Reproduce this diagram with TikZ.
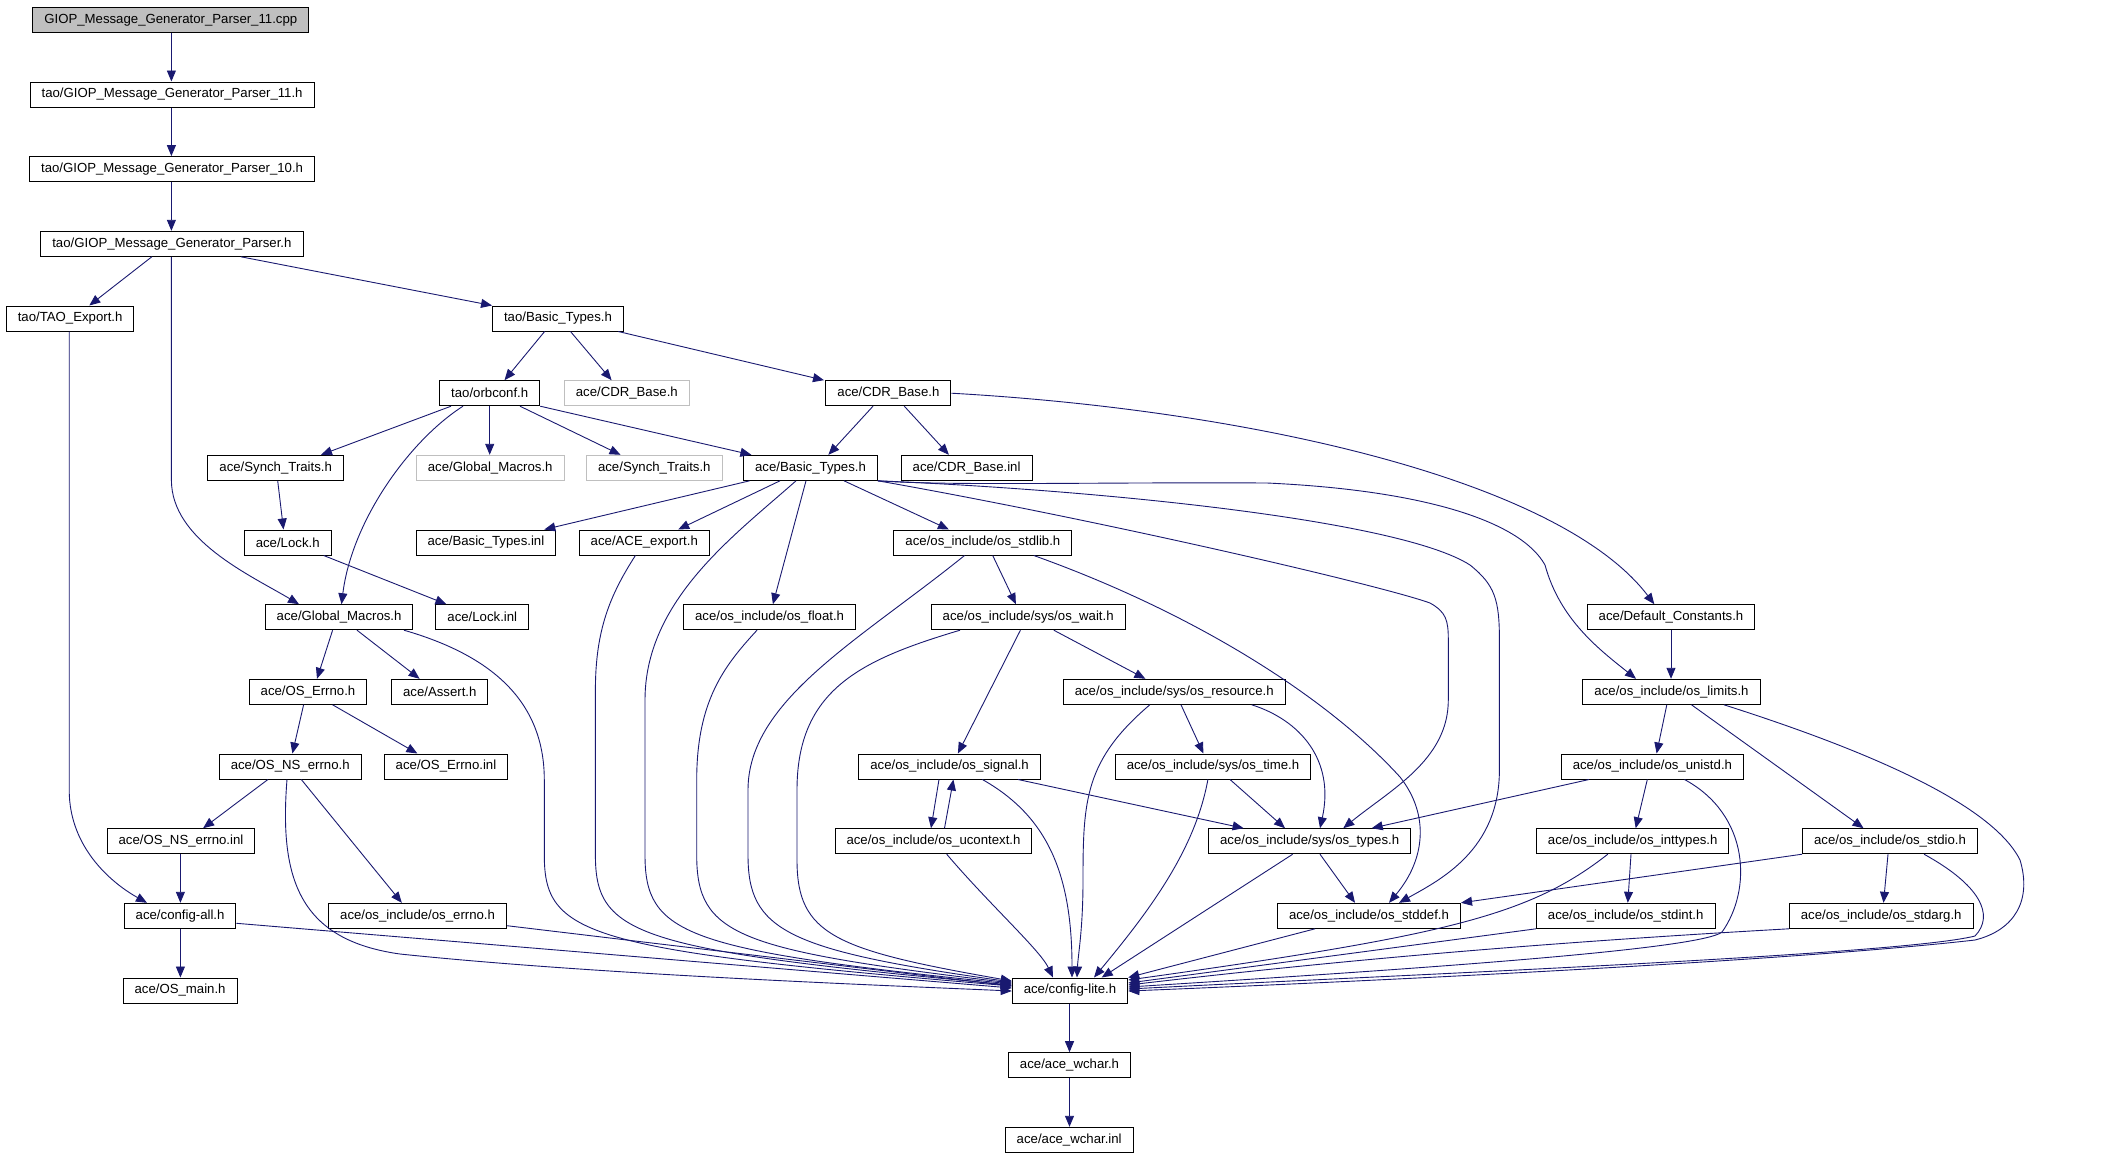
\documentclass[tikz,border=0pt]{standalone}
\usepackage{fontspec}
\setmainfont{Liberation Sans}
\usetikzlibrary{arrows.meta}
\definecolor{edgeblue}{RGB}{25,25,112}
\definecolor{grey75}{RGB}{191,191,191}

\begin{document}
\begin{tikzpicture}[x=1pt, y=-1pt,
      every node/.style = {shape=rectangle, draw, line width=1pt,
        font=\fontsize{13.2}{15}\selectfont,
        minimum height=25pt, inner xsep=11.5pt, inner ysep=0pt},
      ext/.style = {draw=grey75},
      root/.style = {fill=grey75},
      dep/.style = {draw=edgeblue, line width=0.9pt,
        -{Triangle[length=11pt,width=9pt]}}]
  \useasboundingbox (0,0) rectangle (2109,1157);

  \node[root] (cpp) at (170.8,19.8) {GIOP\_Message\_Generator\_Parser\_11.cpp};
  \node (p11) at (172.1,94.5) {tao/GIOP\_Message\_Generator\_Parser\_11.h};
  \node (p10) at (172.1,169.1) {tao/GIOP\_Message\_Generator\_Parser\_10.h};
  \node (parser) at (171.9,243.8) {tao/GIOP\_Message\_Generator\_Parser.h};
  \node (taoexp) at (70.1,318.5) {tao/TAO\_Export.h};
  \node (taobt) at (558,318.5) {tao/Basic\_Types.h};
  \node (orbconf) at (489.7,393.2) {tao/orbconf.h};
  \node[ext] (cdrx) at (626.8,393.2) {ace/CDR\_Base.h};
  \node (cdr) at (888.4,393.2) {ace/CDR\_Base.h};
  \node (synch) at (275.7,467.8) {ace/Synch\_Traits.h};
  \node[ext] (gmx) at (490.2,467.8) {ace/Global\_Macros.h};
  \node[ext] (synchx) at (654.3,467.8) {ace/Synch\_Traits.h};
  \node (bt) at (810.5,467.8) {ace/Basic\_Types.h};
  \node (cdrinl) at (966.6,467.8) {ace/CDR\_Base.inl};
  \node (lock) at (287.7,542.5) {ace/Lock.h};
  \node (btinl) at (485.9,542.5) {ace/Basic\_Types.inl};
  \node (aceexp) at (644.3,542.5) {ace/ACE\_export.h};
  \node (stdlib) at (982.9,542.5) {ace/os\_include/os\_stdlib.h};
  \node (gm) at (339.1,617.2) {ace/Global\_Macros.h};
  \node (lockinl) at (482.3,617.2) {ace/Lock.inl};
  \node (float) at (769.6,617.2) {ace/os\_include/os\_float.h};
  \node (wait) at (1028.2,617.2) {ace/os\_include/sys/os\_wait.h};
  \node (defc) at (1671,617.2) {ace/Default\_Constants.h};
  \node (errno) at (308,691.8) {ace/OS\_Errno.h};
  \node (assert) at (439.8,691.8) {ace/Assert.h};
  \node (resource) at (1174.2,691.8) {ace/os\_include/sys/os\_resource.h};
  \node (limits) at (1671.5,691.8) {ace/os\_include/os\_limits.h};
  \node (nserrno) at (290.2,766.5) {ace/OS\_NS\_errno.h};
  \node (errnoinl) at (446,766.5) {ace/OS\_Errno.inl};
  \node (signal) at (949.6,766.5) {ace/os\_include/os\_signal.h};
  \node (time) at (1213,766.5) {ace/os\_include/sys/os\_time.h};
  \node (unistd) at (1652.4,766.5) {ace/os\_include/os\_unistd.h};
  \node (nserrnoinl) at (181,841.2) {ace/OS\_NS\_errno.inl};
  \node (ucontext) at (933.5,841.2) {ace/os\_include/os\_ucontext.h};
  \node (types) at (1309.6,841.2) {ace/os\_include/sys/os\_types.h};
  \node (inttypes) at (1632.7,841.2) {ace/os\_include/os\_inttypes.h};
  \node (stdio) at (1890,841.2) {ace/os\_include/os\_stdio.h};
  \node (configall) at (180.1,915.8) {ace/config-all.h};
  \node (oserrno) at (417.6,915.8) {ace/os\_include/os\_errno.h};
  \node (stddef) at (1369,915.8) {ace/os\_include/os\_stddef.h};
  \node (stdint) at (1625.7,915.8) {ace/os\_include/os\_stdint.h};
  \node (stdarg) at (1881.2,915.8) {ace/os\_include/os\_stdarg.h};
  \node (osmain) at (180.1,990.5) {ace/OS\_main.h};
  \node (lite) at (1070,990.5) {ace/config-lite.h};
  \node (wchar) at (1069.5,1065.2) {ace/ace\_wchar.h};
  \node (wcharinl) at (1069.2,1139.8) {ace/ace\_wchar.inl};

  \draw[dep] (cpp.south -| 171.4,0) -- (p11.north -| 171.4,0);
  \draw[dep] (p11.south -| 171.4,0) -- (p10.north -| 171.4,0);
  \draw[dep] (p10.south -| 171.4,0) -- (parser.north -| 171.4,0);
  \draw[dep] (parser.south -| 151.8,0) -- (taoexp.north -| 89.3,0);
  \draw[dep] (parser.south -| 241,0) -- (taobt.north west);
  \draw[dep] (parser.south -| 171.4,0) -- (171.4,480) .. controls (171.4,540) and (250,575) .. (gm.north -| 299,0);
  \draw[dep] (taoexp.south -| 69.2,0) -- (69.2,790) .. controls (69.2,850) and (115,885) .. (configall.north -| 147,0);
  \draw[dep] (taobt.south -| 544.6,0) -- (orbconf.north -| 504.5,0);
  \draw[dep] (taobt.south -| 570.5,0) -- (cdrx.north -| 611.6,0);
  \draw[dep] (taobt.south -| 618.3,0) -- (cdr.north -| 824,0);
  \draw[dep] (orbconf.south -| 451,0) -- (synch.north -| 321,0);
  \draw[dep] (orbconf.south -| 463,0) .. controls (410,440) and (352,520) .. (gm.north -| 341.5,0);
  \draw[dep] (orbconf.south -| 489.7,0) -- (gmx.north -| 489.7,0);
  \draw[dep] (orbconf.south -| 520,0) -- (synchx.north -| 620.5,0);
  \draw[dep] (orbconf.south east) -- (bt.north -| 751.4,0);
  \draw[dep] (cdr.south -| 873,0) -- (bt.north -| 828.4,0);
  \draw[dep] (cdr.south -| 904.3,0) -- (cdrinl.north -| 948.9,0);
  \draw[dep] (cdr.east) .. controls (1250,410) and (1560,480) .. (defc.north -| 1654.3,0);
  \draw[dep] (synch.south -| 277.7,0) -- (lock.north -| 283.5,0);
  \draw[dep] (lock.south -| 323.7,0) -- (lockinl.north -| 446.4,0);
  \draw[dep] (bt.south -| 749.6,0) -- (btinl.north -| 544.3,0);
  \draw[dep] (bt.south -| 780,0) -- (aceexp.north -| 678.2,0);
  \draw[dep] (bt.south -| 806,0) -- (float.north -| 772.9,0);
  \draw[dep] (bt.south -| 844,0) -- (stdlib.north -| 948.9,0);
  \draw[dep] (bt.south -| 796,0) .. controls (735,535) and (645,600) .. (645,700) -- (645,855) .. controls (645,935) and (685,950) .. (lite.west |- 0,984);
  \draw[dep] (bt.south east) .. controls (1100,490) and (1400,520) .. (1470,565) .. controls (1495,585) and (1499.4,600) .. (1499.4,640) -- (1499.4,770) .. controls (1499.4,850) and (1440,880) .. (stddef.north -| 1399,0);
  \draw[dep] (bt.south east) .. controls (1100,520) and (1380,585) .. (1430,603) .. controls (1446,612) and (1448.3,620) .. (1448.3,640) -- (1448.3,700) .. controls (1448.3,760) and (1390,790) .. (types.north -| 1343.3,0);
  \draw[dep] (bt.south east) .. controls (950,486) and (1100,482) .. (1267,483) .. controls (1420,490) and (1520,520) .. (1545,565) .. controls (1560,620) and (1600,650) .. (limits.north -| 1636,0);
  \draw[dep] (gm.south -| 332.6,0) -- (errno.north -| 317,0);
  \draw[dep] (gm.south -| 357,0) -- (assert.north -| 419.6,0);
  \draw[dep] (gm.south -| 404,0) .. controls (490,655) and (544.3,700) .. (544.3,780) -- (544.3,855) .. controls (544.3,935) and (584,950) .. (lite.west |- 0,986);
  \draw[dep] (aceexp.south -| 635.4,0) .. controls (610,595) and (595.4,630) .. (595.4,690) -- (595.4,855) .. controls (595.4,935) and (635,950) .. (lite.west |- 0,985);
  \draw[dep] (float.south -| 757,0) .. controls (725,665) and (696.7,700) .. (696.7,780) -- (696.7,855) .. controls (696.7,935) and (736,950) .. (lite.west |- 0,983);
  \draw[dep] (stdlib.south -| 964.5,0) .. controls (860,640) and (748,700) .. (748,790) -- (748,855) .. controls (748,930) and (785,950) .. (lite.west |- 0,982);
  \draw[dep] (stdlib.south -| 992.7,0) -- (wait.north -| 1015.9,0);
  \draw[dep] (stdlib.south -| 1033.8,0) .. controls (1200,615) and (1330,700) .. (1400,777) .. controls (1430,815) and (1425,860) .. (stddef.north -| 1389,0);
  \draw[dep] (defc.south -| 1671,0) -- (limits.north -| 1671,0);
  \draw[dep] (errno.south -| 303.6,0) -- (nserrno.north -| 292.4,0);
  \draw[dep] (errno.south -| 332.6,0) -- (errnoinl.north -| 417.4,0);
  \draw[dep] (wait.south -| 1020.4,0) -- (signal.north -| 957.9,0);
  \draw[dep] (wait.south -| 1053.8,0) -- (resource.north -| 1145.4,0);
  \draw[dep] (wait.south -| 960,0) .. controls (860,660) and (797,690) .. (797,790) -- (797,860) .. controls (797,935) and (835,950) .. (lite.west |- 0,981);
  \draw[dep] (resource.south -| 1181,0) -- (time.north -| 1203.4,0);
  \draw[dep] (resource.south -| 1251.7,0) .. controls (1300,720) and (1335,760) .. (types.north -| 1320,0);
  \draw[dep] (resource.south -| 1149.8,0) .. controls (1085,760) and (1083,800) .. (1083,880) .. controls (1083,930) and (1078,955) .. (lite.north -| 1077,0);
  \draw[dep] (limits.south -| 1666.8,0) -- (unistd.north -| 1656.6,0);
  \draw[dep] (limits.south -| 1691.5,0) -- (stdio.north -| 1863.5,0);
  \draw[dep] (limits.south -| 1724,0) .. controls (1850,745) and (1990,800) .. (2020,860) .. controls (2032,900) and (2015,930) .. (1975,940) .. controls (1800,960) and (1400,980) .. (lite.east |- 0,991);
  \draw[dep] (nserrno.south -| 267.9,0) -- (nserrnoinl.north -| 203.1,0);
  \draw[dep] (nserrno.south -| 301.3,0) -- (oserrno.north -| 401.8,0);
  \draw[dep] (nserrno.south -| 287,0) .. controls (279,880) and (300,940) .. (400,954) .. controls (600,975) and (900,986) .. (lite.west |- 0,991);
  \draw[dep] (signal.south -| 939,0) -- (ucontext.north -| 931,0);
  \draw[dep] (ucontext.north -| 944.5,0) -- (signal.south -| 953.4,0);
  \draw[dep] (signal.south -| 1018,0) -- (types.north -| 1243.6,0);
  \draw[dep] (signal.south -| 982.4,0) .. controls (1045,815) and (1072,870) .. (lite.north -| 1072,0);
  \draw[dep] (time.south -| 1230,0) -- (types.north -| 1285,0);
  \draw[dep] (time.south -| 1207.9,0) .. controls (1195,850) and (1150,910) .. (lite.north -| 1094,0);
  \draw[dep] (unistd.south -| 1589,0) -- (types.north -| 1371.7,0);
  \draw[dep] (unistd.south -| 1647.3,0) -- (inttypes.north -| 1635.7,0);
  \draw[dep] (unistd.south -| 1684.5,0) .. controls (1750,815) and (1752,890) .. (1722,932) .. controls (1700,950) and (1400,970) .. (lite.east |- 0,987);
  \draw[dep] (nserrnoinl.south -| 180.4,0) -- (configall.north -| 180.4,0);
  \draw[dep] (ucontext.south -| 946.7,0) .. controls (990,905) and (1040,950) .. (lite.north -| 1053,0);
  \draw[dep] (types.south -| 1320,0) -- (stddef.north -| 1355,0);
  \draw[dep] (types.south -| 1292.7,0) -- (lite.north -| 1101.7,0);
  \draw[dep] (inttypes.south -| 1631,0) -- (stdint.north -| 1627.8,0);
  \draw[dep] (inttypes.south -| 1607.8,0) .. controls (1530,915) and (1450,935) .. (lite.east |- 0,980);
  \draw[dep] (stdio.south west) -- (stddef.north east);
  \draw[dep] (stdio.south -| 1888,0) -- (stdarg.north -| 1883.5,0);
  \draw[dep] (stdio.south -| 1924,0) .. controls (1980,885) and (1995,915) .. (1975,936) .. controls (1900,955) and (1400,975) .. (lite.east |- 0,989);
  \draw[dep] (configall.south -| 180.4,0) -- (osmain.north -| 180.4,0);
  \draw[dep] (configall.east |- 0,923.3) -- (lite.west |- 0,988);
  \draw[dep] (oserrno.east |- 0,925.7) -- (lite.west |- 0,986);
  \draw[dep] (stddef.south -| 1315,0) -- (lite.north east);
  \draw[dep] (stdint.south west) -- (lite.east |- 0,983);
  \draw[dep] (stdarg.south west) .. controls (1500,945) and (1300,965) .. (lite.east |- 0,985);
  \draw[dep] (lite.south -| 1069.5,0) -- (wchar.north -| 1069.5,0);
  \draw[dep] (wchar.south -| 1069.5,0) -- (wcharinl.north -| 1069.5,0);
\end{tikzpicture}
\end{document}
